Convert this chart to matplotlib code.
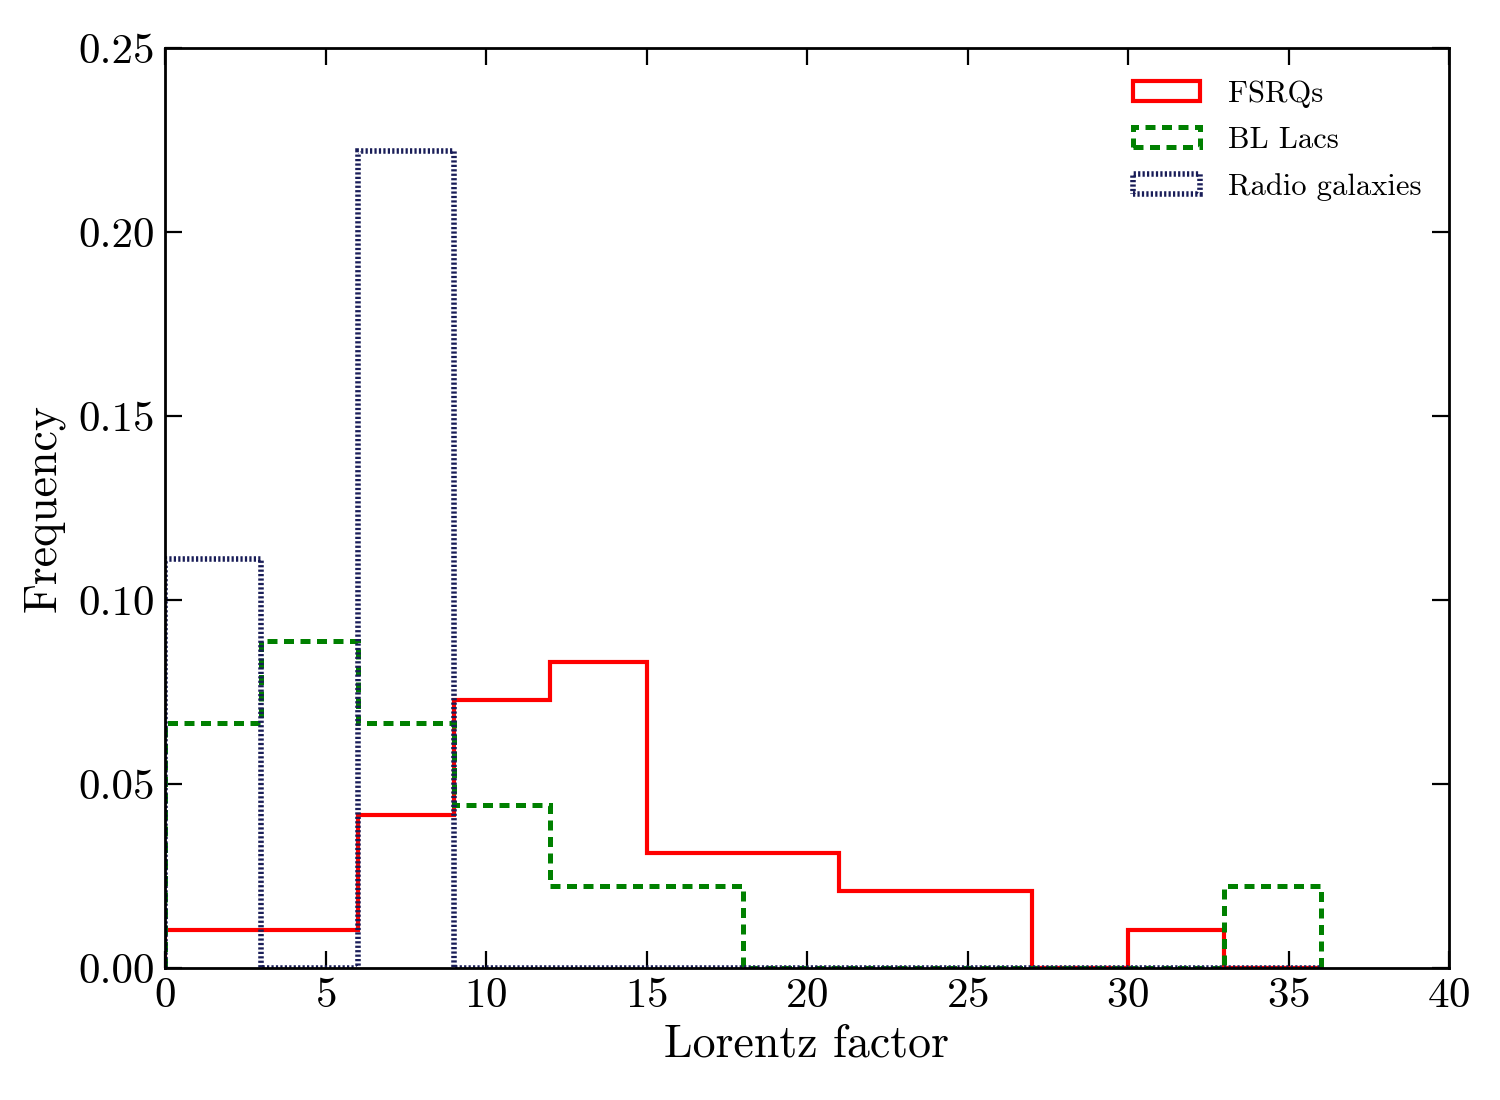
import numpy as np
import matplotlib.pyplot as plt

plt.rcParams['font.family'] = 'serif'
plt.rcParams['font.serif'] = ['cmr10']
plt.rcParams['mathtext.fontset'] = 'cm'
plt.rcParams['axes.formatter.use_mathtext'] = True

# histogram bins (Lorentz factor) and normalised frequencies
bin_edges = np.arange(0, 39, 3)
fsrq_freq = [0.0104, 0.0104, 0.0417, 0.0729, 0.0833, 0.03125, 0.03125,
             0.0208, 0.0208, 0.0, 0.0104, 0.0]
bllac_freq = [0.0667, 0.0889, 0.0667, 0.0444, 0.0222, 0.0222, 0.0,
              0.0, 0.0, 0.0, 0.0, 0.0222]
rg_freq = [0.1111, 0.0, 0.2222, 0.0, 0.0, 0.0, 0.0,
           0.0, 0.0, 0.0, 0.0, 0.0]

centers = 0.5 * (bin_edges[:-1] + bin_edges[1:])

fig = plt.figure(figsize=(7.5, 5.5), dpi=200)
ax = fig.add_axes([0.11, 0.12, 0.856, 0.836])

ax.hist(centers, bins=bin_edges, weights=fsrq_freq, histtype='step',
        color='red', lw=1.5, ls='-', label='FSRQs')
ax.hist(centers, bins=bin_edges, weights=bllac_freq, histtype='step',
        color='green', lw=1.8, ls=(0, (2.0, 1.3)), label='BL Lacs')
ax.hist(centers, bins=bin_edges, weights=rg_freq, histtype='step',
        color='#191d58', lw=2.0, ls=(0, (0.4, 0.4)), label='Radio galaxies')

ax.set_xlim(0, 40)
ax.set_ylim(0, 0.25)
ax.set_xticks(np.arange(0, 41, 5))
ax.set_yticks(np.arange(0, 0.26, 0.05))
ax.yaxis.set_major_formatter(plt.FormatStrFormatter('%.2f'))
ax.tick_params(direction='in', top=True, right=True, length=6, width=0.8,
               labelsize=15.5, pad=3.5)
for s in ax.spines.values():
    s.set_linewidth(1.0)

ax.set_xlabel('Lorentz factor', fontsize=16.5, labelpad=3)
ax.set_ylabel('Frequency', fontsize=16.5, labelpad=5)
ax.legend(loc='upper right', bbox_to_anchor=(1.0, 0.9955), frameon=False,
          fontsize=11, handlelength=2.2, handleheight=0.65,
          labelspacing=0.62, handletextpad=0.9)

fig.savefig('out.png')
